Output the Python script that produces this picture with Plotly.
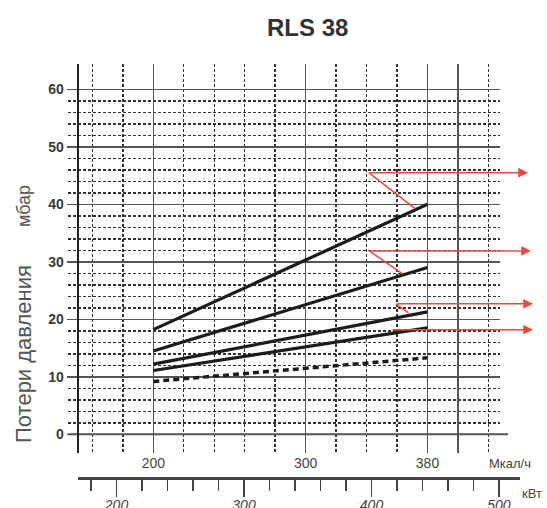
import plotly.graph_objects as go

# ---------------- data ----------------
output_mcal = [200, 380]                 # Мкал/ч
line_a = [18.2, 40.0]                    # мбар
line_b = [14.5, 29.0]
line_c = [12.2, 21.3]
line_d = [11.1, 18.5]
line_dashed = [9.2, 13.3]

y_ticks = [0, 10, 20, 30, 40, 50, 60]
y_minor = [v for v in range(2, 60, 2) if v % 10]
x_major = [200, 300, 380, 400]
x_major_text = ["200", "300", "380", ""]
x_minor = [160, 180, 220, 240, 260, 280, 320, 340, 360, 420]
kw_major = [200, 300, 400, 500]

# red callouts: (tail x, tail y) on a line -> elbow (x, y) -> arrow to right
callouts = [
    ((371.9, 39.25), (341.4, 45.5), 528),
    ((363.6, 27.9), (341.8, 31.9), 531),
    ((367.5, 21.1), (359.2, 22.7), 533),
    (None, (356.0, 18.2), 533),
]

# ---------------- layout geometry ----------------
W, H = 547, 508


def py(y):
    return 1 - y / H


X_DOM = [68 / W, 500 / W]
X_RNG = [144.0, 427.6]
Y_DOM = [py(453), py(64)]
Y_RNG = [-3.25, 64.4]
X2_DOM = [78 / W, 520 / W]
X2_RNG = [169.8, 516.5]


def x_to_px(v):
    f = (v - X_RNG[0]) / (X_RNG[1] - X_RNG[0])
    return (X_DOM[0] + f * (X_DOM[1] - X_DOM[0])) * W


FONT = "Liberation Sans, Arial, sans-serif"
RED = "#ec4a40"
INK = "#1c1c1c"

fig = go.Figure()

for ys in (line_a, line_b, line_c, line_d):
    fig.add_trace(go.Scatter(x=output_mcal, y=ys, mode="lines",
                             line=dict(color=INK, width=3.2), showlegend=False,
                             hoverinfo="skip"))
fig.add_trace(go.Scatter(x=output_mcal, y=line_dashed, mode="lines",
                         line=dict(color=INK, width=3.5, dash="6px,4px"),
                         showlegend=False, hoverinfo="skip"))

# dummy trace to realise the kW axis
fig.add_trace(go.Scatter(x=[300], y=[None], xaxis="x2", yaxis="y2",
                         mode="markers", showlegend=False, hoverinfo="skip"))

shapes = []
annotations = []
for tail, elbow, head_px in callouts:
    if tail is not None:
        shapes.append(dict(type="line", xref="x", yref="y",
                           x0=tail[0], y0=tail[1], x1=elbow[0], y1=elbow[1],
                           line=dict(color=RED, width=1.5)))
    start_px = x_to_px(elbow[0])
    annotations.append(dict(x=head_px / W, xref="paper", y=elbow[1], yref="y",
                            ax=start_px - head_px, ay=0, axref="pixel",
                            ayref="pixel", text="", showarrow=True,
                            arrowhead=2, arrowsize=1.3, arrowwidth=1.5,
                            arrowcolor=RED, standoff=0))

# extended 0-line (Mcal axis line)
shapes.append(dict(type="line", xref="paper", yref="y", x0=68 / W, x1=508 / W,
                   y0=0, y1=0, line=dict(color="#555555", width=2), layer="below"))


def label(text, x, y, size, color, angle=0):
    return dict(text=text, x=x / W, y=py(y), xref="paper", yref="paper",
                xanchor="center", yanchor="middle", textangle=angle,
                showarrow=False, font=dict(family=FONT, size=size, color=color))


annotations += [
    label("<b>RLS 38</b>", 307, 27, 24, "#333333"),
    label("Потери давления", 23, 354, 22, "#555555", -90),
    label("мбар", 24, 206, 18, "#555555", -90),
    label("Мкал/ч", 510, 463, 13, "#444444"),
    label("кВт", 532, 493, 13, "#444444"),
]

fig.update_layout(
    width=W, height=H,
    margin=dict(l=0, r=0, t=0, b=0, autoexpand=False),
    paper_bgcolor="white", plot_bgcolor="rgba(0,0,0,0)",
    showlegend=False,
    shapes=shapes, annotations=annotations,
    xaxis=dict(domain=X_DOM, range=X_RNG, anchor="y", automargin=False,
               tickmode="array", tickvals=x_major, ticktext=x_major_text,
               showgrid=True, gridcolor="#555555", gridwidth=1.6,
               ticks="", showline=False, zeroline=False,
               tickfont=dict(family=FONT, size=14, color="#444444"),
               minor=dict(tickmode="array", tickvals=x_minor, showgrid=True,
                          gridcolor="#333333", gridwidth=1.4, griddash="3px,2px",
                          ticks="")),
    yaxis=dict(domain=Y_DOM, range=Y_RNG, anchor="free", position=77.7 / W,
               automargin=False,
               tickmode="array", tickvals=y_ticks,
               showgrid=True, gridcolor="#555555", gridwidth=1.6,
               showline=True, linecolor="#222222", linewidth=2.6,
               ticks="outside", ticklen=10, tickwidth=1.6, tickcolor="#555555",
               zeroline=False,
               tickfont=dict(family=FONT, size=14, color="#3a3a3a", weight="bold"),
               minor=dict(tickmode="array", tickvals=y_minor, showgrid=True,
                          gridcolor="#333333", gridwidth=1.4, griddash="3px,2px",
                          ticks="")),
    xaxis2=dict(domain=X2_DOM, range=X2_RNG, anchor="free", position=py(478),
                automargin=False,
                tickmode="array", tickvals=kw_major,
                showgrid=False, zeroline=False,
                showline=True, linecolor="#444444", linewidth=3,
                ticks="outside", ticklen=17, tickwidth=1.6, tickcolor="#444444",
                ticklabelstandoff=-4,
                tickfont=dict(family=FONT, size=14, color="#444444", style="italic"),
                minor=dict(tickmode="linear", tick0=0, dtick=20, ticks="outside",
                           ticklen=11, tickwidth=1.6, tickcolor="#444444",
                           showgrid=False)),
    yaxis2=dict(domain=[0, 0.01], anchor="x2", visible=False, range=[0, 1],
                automargin=False),
)

fig.write_html("out.html",
               config={"displayModeBar": False, "staticPlot": True},
               post_script="document.body.style.margin='0';"
                           "document.body.style.overflow='hidden';")
